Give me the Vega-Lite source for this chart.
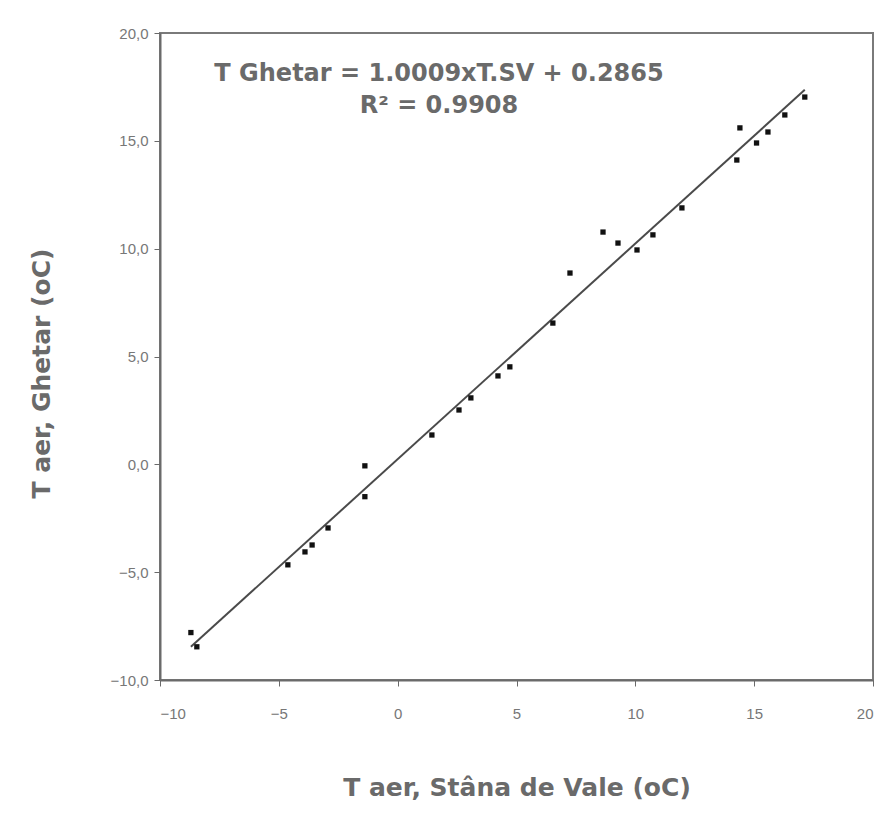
{
  "$schema": "https://vega.github.io/schema/vega-lite/v6.json",
  "width": 713,
  "height": 647,
  "autosize": {"type": "none"},
  "padding": {"left": 160, "top": 33, "right": 17, "bottom": 138},
  "background": "white",
  "config": {
    "font": "Liberation Sans",
    "view": {"stroke": "#7a7a7a", "strokeWidth": 2},
    "axis": {"grid": false}
  },
  "datasets": {
    "pts": [
      {"sv": -8.7, "gh": -7.8},
      {"sv": -8.45, "gh": -8.46},
      {"sv": -4.62, "gh": -4.66},
      {"sv": -3.9, "gh": -4.06},
      {"sv": -3.6, "gh": -3.74},
      {"sv": -2.93, "gh": -2.95},
      {"sv": -1.38, "gh": -0.07},
      {"sv": -1.38, "gh": -1.5},
      {"sv": 1.44, "gh": 1.36},
      {"sv": 2.58, "gh": 2.52},
      {"sv": 3.08, "gh": 3.08},
      {"sv": 4.22, "gh": 4.1},
      {"sv": 4.72, "gh": 4.52},
      {"sv": 6.53, "gh": 6.55},
      {"sv": 7.25, "gh": 8.87},
      {"sv": 8.64, "gh": 10.77},
      {"sv": 9.27, "gh": 10.26},
      {"sv": 10.07, "gh": 9.94},
      {"sv": 10.74, "gh": 10.64},
      {"sv": 11.96, "gh": 11.89},
      {"sv": 14.27, "gh": 14.11},
      {"sv": 14.4, "gh": 15.6},
      {"sv": 15.1, "gh": 14.9},
      {"sv": 15.58, "gh": 15.41},
      {"sv": 16.29, "gh": 16.2},
      {"sv": 17.13, "gh": 17.03}
    ],
    "notes": [
      {"sv": 1.74, "gh": 18.1, "label": "T Ghetar = 1.0009xT.SV + 0.2865"},
      {"sv": 1.74, "gh": 16.6, "label": "R² = 0.9908"}
    ]
  },
  "layer": [
    {
      "data": {"name": "pts"},
      "transform": [{"regression": "gh", "on": "sv"}],
      "mark": {"type": "line", "color": "#4a4a4a", "strokeWidth": 2},
      "encoding": {
        "x": {"field": "sv", "type": "quantitative"},
        "y": {"field": "gh", "type": "quantitative"}
      }
    },
    {
      "data": {"name": "pts"},
      "mark": {"type": "square", "color": "#111111", "opacity": 1, "size": 28},
      "encoding": {
        "x": {
          "field": "sv",
          "type": "quantitative",
          "scale": {"domain": [-10, 20], "nice": false, "zero": false},
          "axis": {
            "title": "T aer, Stâna de Vale (oC)",
            "values": [-10, -5, 0, 5, 10, 15, 20],
            "domainColor": "#6a6a6a",
            "domainWidth": 2,
            "tickColor": "#6a6a6a",
            "tickSize": 6,
            "labelFontSize": 15,
            "labelColor": "#777777",
            "labelPadding": 20,
            "titleFont": "DejaVu Sans",
            "titleFontSize": 25,
            "titleFontWeight": "bold",
            "titleColor": "#6a6a6a",
            "titlePadding": 54
          }
        },
        "y": {
          "field": "gh",
          "type": "quantitative",
          "scale": {"domain": [-10, 20], "nice": false, "zero": false},
          "axis": {
            "title": "T aer, Ghetar (oC)",
            "values": [-10, -5, 0, 5, 10, 15, 20],
            "labelExpr": "replace(format(datum.value, '.1f'), '.', ',')",
            "domainColor": "#6a6a6a",
            "domainWidth": 2,
            "tickColor": "#6a6a6a",
            "tickSize": 6,
            "labelFontSize": 15,
            "labelColor": "#777777",
            "labelPadding": 6,
            "titleFont": "DejaVu Sans",
            "titleFontSize": 25,
            "titleFontWeight": "bold",
            "titleColor": "#6a6a6a",
            "titlePadding": 56,
            "titleY": 340
          }
        }
      }
    },
    {
      "data": {"name": "notes"},
      "mark": {"type": "text", "font": "DejaVu Sans", "fontWeight": "bold", "fontSize": 24, "color": "#6a6a6a", "baseline": "middle", "align": "center"},
      "encoding": {
        "x": {"field": "sv", "type": "quantitative"},
        "y": {"field": "gh", "type": "quantitative"},
        "text": {"field": "label"}
      }
    }
  ]
}
